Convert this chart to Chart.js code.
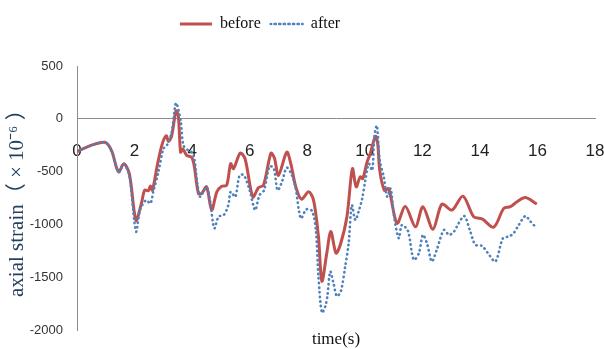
<!DOCTYPE html>
<html>
<head>
<meta charset="utf-8">
<script src="https://cdn.jsdelivr.net/npm/chart.js@4/dist/chart.umd.min.js"></script>
<style>
  html, body { margin: 0; padding: 0; background: #ffffff; }
  #wrap { width: 604px; height: 349px; }
</style>
</head>
<body>
<div id="wrap"><canvas id="chart" width="604" height="349"></canvas></div>
<script>
// Strain record before retrofit: time (s) and axial strain (x10^-6)
const beforeTime = [0.0, 0.45, 0.97, 1.2, 1.44, 1.63, 1.82, 2.05, 2.25, 2.35, 2.48, 2.55, 2.62, 2.79, 2.95, 3.1, 3.18, 3.29, 3.44, 3.52, 3.6, 3.68, 3.81, 3.98, 4.07, 4.22, 4.33, 4.5, 4.68, 4.86, 5.03, 5.2, 5.34, 5.44, 5.67, 5.84, 6.11, 6.31, 6.48, 6.74, 6.86, 7.0, 7.29, 7.43, 7.6, 7.8, 8.05, 8.22, 8.39, 8.51, 8.68, 8.82, 9.0, 9.15, 9.38, 9.57, 9.7, 9.84, 9.93, 10.08, 10.19, 10.37, 10.45, 10.52, 10.68, 10.83, 11.12, 11.41, 11.76, 12.02, 12.37, 12.68, 13.03, 13.41, 13.78, 14.0, 14.1, 14.48, 14.83, 15.06, 15.29, 15.58, 15.98];
const beforeStrain = [-310, -255, -222, -300, -500, -425, -520, -960, -785, -675, -680, -635, -675, -440, -248, -160, -215, -160, 75, 30, -315, -285, -345, -362, -440, -706, -706, -643, -862, -690, -637, -628, -424, -471, -324, -377, -738, -650, -628, -324, -370, -534, -315, -424, -640, -760, -690, -769, -1113, -1536, -1270, -1066, -1270, -1191, -925, -471, -643, -549, -565, -408, -330, -165, -236, -487, -675, -660, -988, -828, -1020, -831, -1044, -806, -863, -731, -925, -941, -950, -1025, -847, -831, -784, -744, -806];

// Strain record after retrofit
const afterTime = [0.0, 0.45, 0.97, 1.2, 1.44, 1.63, 1.82, 2.05, 2.19, 2.4, 2.55, 2.65, 2.83, 3.0, 3.12, 3.29, 3.44, 3.6, 3.7, 3.87, 4.04, 4.19, 4.28, 4.5, 4.62, 4.77, 4.92, 5.1, 5.26, 5.34, 5.5, 5.65, 5.8, 6.0, 6.19, 6.34, 6.5, 6.69, 6.84, 6.97, 7.12, 7.29, 7.47, 7.59, 7.78, 7.97, 8.17, 8.3, 8.39, 8.51, 8.63, 8.7, 8.8, 8.91, 9.03, 9.17, 9.32, 9.44, 9.55, 9.67, 9.8, 9.91, 10.02, 10.14, 10.26, 10.33, 10.42, 10.52, 10.66, 10.78, 10.9, 11.0, 11.18, 11.29, 11.5, 11.7, 11.88, 12.02, 12.16, 12.33, 12.5, 12.75, 12.93, 13.1, 13.26, 13.46, 13.65, 13.84, 14.07, 14.28, 14.54, 14.8, 15.0, 15.17, 15.35, 15.58, 15.76, 15.93];
const afterStrain = [-310, -255, -222, -300, -505, -430, -540, -1066, -862, -769, -800, -690, -502, -283, -252, -127, 149, -17, -252, -299, -330, -628, -737, -643, -769, -1035, -925, -910, -815, -690, -737, -534, -534, -675, -862, -722, -675, -449, -471, -675, -597, -462, -534, -643, -941, -856, -872, -1051, -1490, -1834, -1771, -1677, -1443, -1552, -1677, -1630, -1396, -1176, -815, -957, -863, -753, -581, -424, -487, -173, -64, -393, -549, -737, -659, -894, -1129, -1004, -1060, -1333, -1270, -1098, -1176, -1349, -1239, -1051, -1098, -1066, -988, -919, -1051, -1191, -1201, -1270, -1349, -1129, -1113, -1082, -1004, -919, -972, -1020];

// Axis ranges and tick spacing
const timeRange = [0, 18];
const timeStep = 2;
const strainRange = [-2000, 500];
const strainStep = 500;

const seriesNames = ['before', 'after'];

function toPoints(xs, ys) {
  return xs.map((x, i) => ({ x: x, y: ys[i] }));
}

// Places the legend block: horizontal centre and a lift above the reserved top band
const legendCentre = 260;
const legendLift = 24;
const legendShift = {
  id: 'legendShift',
  afterLayout(chart) {
    const lg = chart.legend;
    if (!lg) return;
    const d = (lg.left + lg.right) / 2 - legendCentre;
    lg.left -= d;
    lg.right -= d;
    lg.top -= legendLift;
    lg.bottom -= legendLift;
  }
};

const axisGrey = '#8c8c8c';

new Chart(document.getElementById('chart'), {
  type: 'line',
  data: {
    datasets: [
      {
        label: seriesNames[0],
        data: toPoints(beforeTime, beforeStrain),
        borderColor: '#c0504d',
        backgroundColor: '#c0504d',
        borderWidth: 3,
        pointRadius: 0,
        tension: 0.3,
        order: 2
      },
      {
        label: seriesNames[1],
        data: toPoints(afterTime, afterStrain),
        borderColor: '#4f81bd',
        backgroundColor: '#4f81bd',
        borderWidth: 2.6,
        borderDash: [0.4, 4.2],
        borderCapStyle: 'round',
        pointRadius: 0,
        tension: 0.3,
        order: 1
      }
    ]
  },
  options: {
    responsive: false,
    animation: false,
    devicePixelRatio: 1,
    layout: { padding: { left: 0, right: 9, top: 6 + legendLift, bottom: 0 } },
    plugins: {
      legend: {
        position: 'top',
        labels: {
          boxWidth: 32,
          boxHeight: 0,
          padding: 10,
          color: '#111111',
          font: { family: '"Liberation Serif", "DejaVu Serif", serif', size: 16 },
          sort: (a, b) => a.datasetIndex - b.datasetIndex
        }
      },
      title: {
        display: true,
        position: 'bottom',
        fullSize: false,
        text: 'time(s)',
        color: '#111111',
        padding: { top: 0, bottom: 0 },
        font: { family: '"Liberation Serif", "DejaVu Serif", serif', size: 17, weight: 'normal', lineHeight: 1.1 }
      },
      tooltip: { enabled: false }
    },
    scales: {
      x: {
        type: 'linear',
        axis: 'x',
        position: { y: 0 },
        min: timeRange[0],
        max: timeRange[1],
        grid: { display: false, drawTicks: false, tickLength: 0 },
        border: { display: true, color: axisGrey, width: 1 },
        ticks: {
          stepSize: timeStep,
          padding: 22,
          color: '#222222',
          font: { family: '"Liberation Sans Narrow", "Liberation Sans", sans-serif', size: 17 }
        },
        afterFit(scale) { scale.paddingLeft = 0; scale.paddingRight = 0; }
      },
      y: {
        type: 'linear',
        position: 'left',
        min: strainRange[0],
        max: strainRange[1],
        grid: { display: false, drawTicks: false, tickLength: 0 },
        border: { display: true, color: axisGrey, width: 1 },
        ticks: {
          stepSize: strainStep,
          padding: 14,
          color: '#333333',
          font: { family: '"Liberation Sans", sans-serif', size: 13 },
          callback: (v) => String(v)
        },
        title: {
          display: true,
          text: 'axial strain（ × 10⁻⁶ ）',
          color: '#243f60',
          padding: { top: 5, bottom: 0 },
          font: { family: '"Liberation Serif", "Noto Sans CJK SC", serif', size: 21 }
        },
        afterFit(scale) { scale.width = 77; scale.paddingBottom = 0; }
      }
    }
  },
  plugins: [legendShift]
});
</script>
</body>
</html>
